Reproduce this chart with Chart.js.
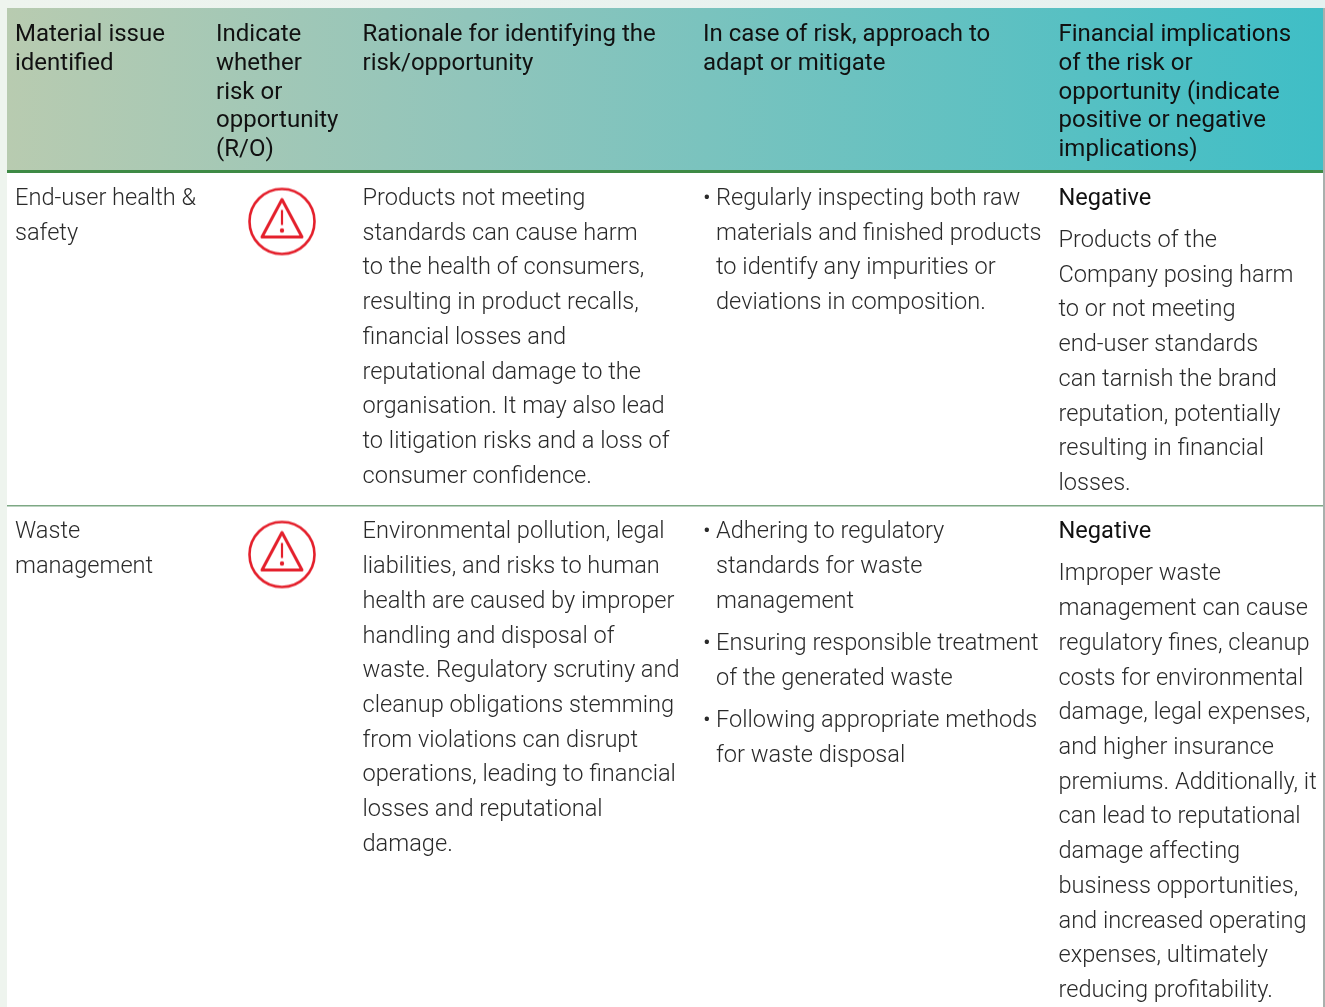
<!DOCTYPE html>
<html><head><meta charset="utf-8">
<style>html,body{margin:0;padding:0;background:#fff;overflow:hidden}canvas{display:block}</style>
<script src="https://cdn.jsdelivr.net/npm/chart.js@4"></script></head>
<body><canvas id="c" width="1325" height="1007"></canvas>
<script>
const headers = [
  ["Material issue","identified"],
  ["Indicate","whether","risk or","opportunity","(R/O)"],
  ["Rationale for identifying the","risk/opportunity"],
  ["In case of risk, approach to","adapt or mitigate"],
  ["Financial implications","of the risk or","opportunity (indicate","positive or negative","implications)"]
];
const issues = [["End-user health &","safety"],["Waste","management"]];
const riskFlags = ["R","R"];
const rationale = [
  ["Products not meeting","standards can cause harm","to the health of consumers,","resulting in product recalls,","financial losses and","reputational damage to the","organisation. It may also lead","to litigation risks and a loss of","consumer confidence."],
  ["Environmental pollution, legal","liabilities, and risks to human","health are caused by improper","handling and disposal of","waste. Regulatory scrutiny and","cleanup obligations stemming","from violations can disrupt","operations, leading to financial","losses and reputational","damage."]
];
const approach = [
  [["Regularly inspecting both raw","materials and finished products","to identify any impurities or","deviations in composition."]],
  [["Adhering to regulatory","standards for waste","management"],["Ensuring responsible treatment","of the generated waste"],["Following appropriate methods","for waste disposal"]]
];
const implicationType = ["Negative","Negative"];
const implications = [
  ["Products of the","Company posing harm","to or not meeting","end-user standards","can tarnish the brand","reputation, potentially","resulting in financial","losses."],
  ["Improper waste","management can cause","regulatory fines, cleanup","costs for environmental","damage, legal expenses,","and higher insurance","premiums. Additionally, it","can lead to reputational","damage affecting","business opportunities,","and increased operating","expenses, ultimately","reducing profitability."]
];

// layout
const W=1325,H=1007;
const colX=[15,216,362.5,703,1058.5], bulletTextX=716;
const iconY=[221.5,554.5];
const firstLine=[199,532.5];
const step=34.72, headStep=28.75, headTop=35;
const bodyFont='300 23.6px Roboto', headFont='400 24px Roboto', typeFont='400 23.6px Roboto';
const icon=document.createElement('canvas');icon.width=icon.height=72;
(function(){const g=icon.getContext('2d');g.strokeStyle='#e4202c';g.fillStyle='#e4202c';g.lineWidth=2.6;g.lineJoin='round';
 g.beginPath();g.arc(36,36,32.5,0,Math.PI*2);g.stroke();
 g.lineWidth=3;g.beginPath();g.moveTo(36,14);g.lineTo(56,51.5);g.lineTo(16,51.5);g.closePath();g.stroke();
 g.lineWidth=2.2;g.beginPath();g.moveTo(36,24.5);g.lineTo(36,39.5);g.stroke();
 g.beginPath();g.arc(36,45,2.2,0,Math.PI*2);g.fill();})();

const tablePlugin={id:'table',
 beforeDatasetsDraw(chart){
  const {ctx,scales:{x,y}}=chart;
  const px=v=>x.getPixelForValue(v),py=v=>y.getPixelForValue(v);
  ctx.save();
  ctx.fillStyle='#fff';ctx.fillRect(0,0,W,H);
  // page margins
  const m=ctx.createLinearGradient(0,0,W,0);m.addColorStop(0,'#eef4ee');m.addColorStop(1,'#e4f1f0');
  ctx.fillStyle=m;ctx.fillRect(0,0,W,8);
  ctx.fillStyle='#eef4ee';ctx.fillRect(0,0,7,H);
  ctx.fillStyle='#a9b0ad';ctx.fillRect(1323,8,2,H-8);
  // header band
  const g=ctx.createLinearGradient(px(7),0,px(1323),0);
  g.addColorStop(0,'#b8cbb0');g.addColorStop(.35,'#91c5bb');g.addColorStop(1,'#3fbec6');
  ctx.fillStyle=g;ctx.fillRect(px(7),py(8),px(1323)-px(7),py(170)-py(8));
  ctx.fillStyle='#3e8a45';ctx.fillRect(px(7),py(170),px(1323)-px(7),3);
  ctx.fillStyle='#7da884';ctx.fillRect(px(7),py(505),px(1323)-px(7),1.5);
  // text
  ctx.textBaseline='middle';ctx.textAlign='left';
  ctx.fillStyle='#111';ctx.font=headFont;
  headers.forEach((ls,c)=>ls.forEach((t,i)=>ctx.fillText(t,px(colX[c]),py(headTop+i*headStep))));
  ctx.fillStyle='#2a2a2a';ctx.font=bodyFont;
  firstLine.forEach((y0,r)=>{
   issues[r].forEach((t,i)=>ctx.fillText(t,px(colX[0]),py(y0+i*step)));
   rationale[r].forEach((t,i)=>ctx.fillText(t,px(colX[2]),py(y0+i*step)));
   let yy=y0;
   approach[r].forEach(b=>{
    ctx.font=bodyFont;ctx.fillText('•',px(colX[3]),py(yy));
    b.forEach((t,i)=>{ctx.fillText(t,px(bulletTextX),py(yy));yy+=step;});
    yy+=7.5;
   });
   ctx.font=typeFont;ctx.fillStyle='#111';
   ctx.fillText(implicationType[r],px(colX[4]),py(y0));
   ctx.font=bodyFont;ctx.fillStyle='#2a2a2a';
   implications[r].forEach((t,i)=>ctx.fillText(t,px(colX[4]),py(y0+42+i*step)));
  });
  ctx.restore();
 }};

new Chart(document.getElementById('c'),{
 type:'scatter',
 data:{datasets:[{label:'Risk',
   data:riskFlags.map((f,r)=>({x:282,y:iconY[r]})),
   pointStyle:icon,pointRadius:36,pointHoverRadius:36}]},
 options:{responsive:false,animation:false,events:[],
  layout:{padding:0,autoPadding:false},
  plugins:{legend:{display:false},tooltip:{enabled:false}},
  scales:{x:{type:'linear',display:false,min:0,max:W,offset:false},
          y:{type:'linear',display:false,min:0,max:H,reverse:true,offset:false}}},
 plugins:[tablePlugin]});
</script></body></html>
